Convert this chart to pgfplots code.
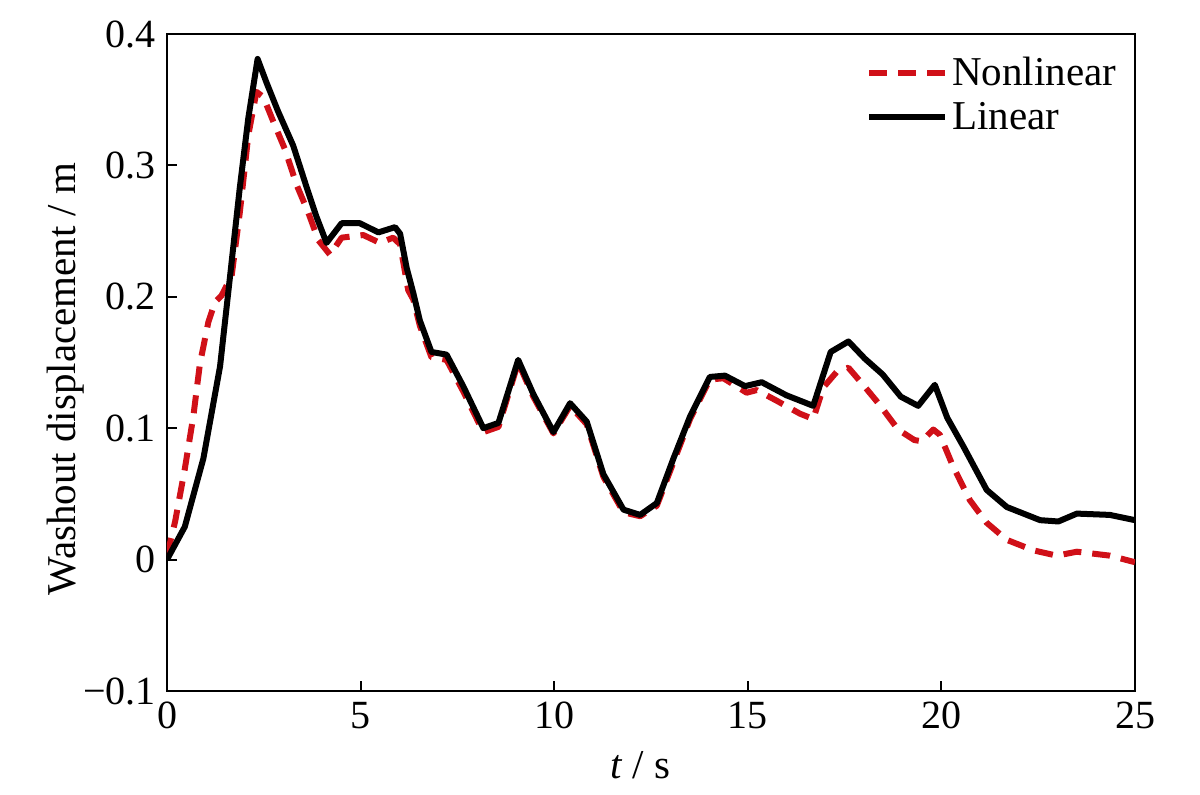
\documentclass[border=0pt]{standalone}
\usepackage{fontspec}
\setmainfont{Liberation Serif}
\usepackage{pgfplots}
\pgfplotsset{compat=1.18}
\definecolor{nlred}{RGB}{208,16,24}

\begin{document}
\begin{tikzpicture}
  \begin{axis}[
    name=main,
    scale only axis,
    width=484pt, height=328.5pt,
    xmin=0, xmax=25, ymin=-0.1, ymax=0.4,
    xtick={0,5,...,25},
    ytick={-0.1,0,0.1,0.2,0.3,0.4},
    yticklabels={−0.1,0,0.1,0.2,0.3,0.4},
    /pgf/number format/assume math mode=true,
    tick align=inside,
    xtick pos=bottom, ytick pos=left,
    major tick length=5pt,
    tick style={line width=1pt, black},
    axis line style={line width=1.2pt},
    every tick label/.append style={font=\fontsize{20}{24}\selectfont},
    xticklabel style={yshift=-2pt},
    yticklabel style={xshift=-2pt},
    xlabel={\textit{t} / s},
    ylabel={Washout displacement / m},
    label style={font=\fontsize{20.5}{24}\selectfont},
    xlabel style={at={(axis description cs:0.489,-0.113)}, anchor=center},
    ylabel style={at={(axis description cs:-0.105,0.475)}, anchor=center, rotate=0},
    legend style={at={(axis description cs:0.985,0.972)}, anchor=north east,
      draw=none, fill=none, font=\fontsize{20.5}{24}\selectfont,
      row sep=3pt, inner sep=0pt},
    legend cell align=left,
    legend image code/.code={\draw[#1] (0pt,0pt) -- (38pt,0pt);},
  ]
    % nonlinear washout
    \addplot[nlred, line width=3pt, dash pattern=on 9pt off 5.5pt, line join=round] coordinates {
      (0,0.003) (0.21,0.029) (0.46,0.069) (0.68,0.109) (0.85,0.149) (1.07,0.181)
      (1.24,0.196) (1.41,0.201) (1.67,0.216) (1.88,0.264) (2.10,0.323) (2.31,0.356)
      (2.49,0.352) (2.75,0.333) (3.05,0.312) (3.35,0.285) (3.65,0.264) (3.91,0.243)
      (4.21,0.232) (4.51,0.245) (5.07,0.247) (5.50,0.241) (5.84,0.245) (6.02,0.240)
      (6.23,0.205) (6.36,0.198) (6.53,0.178) (6.83,0.154) (7.22,0.152) (7.65,0.128)
      (8.17,0.097) (8.56,0.101) (9.07,0.150) (9.46,0.124) (9.98,0.096) (10.41,0.117)
      (10.84,0.103) (11.27,0.063) (11.79,0.036) (12.22,0.033) (12.65,0.041) (13.08,0.074)
      (13.51,0.107) (14.02,0.137) (14.37,0.138) (14.97,0.127) (15.23,0.129) (15.74,0.121)
      (16.35,0.111) (16.69,0.107) (16.95,0.131) (17.3,0.143) (17.6,0.146) (17.95,0.134)
      (18.4,0.118) (18.88,0.099) (19.3,0.091) (19.49,0.090) (19.79,0.099) (19.96,0.095)
      (20.3,0.071) (20.74,0.045) (21.17,0.028) (21.69,0.015) (22.38,0.007) (22.98,0.003)
      (23.5,0.006) (24.35,0.003) (25,-0.002)
    };
    \addlegendentry{Nonlinear}
    % linear washout
    \addplot[black, line width=3pt, line join=round] coordinates {
      (0,0) (0.46,0.025) (0.94,0.077) (1.37,0.147) (1.63,0.216) (1.88,0.283)
      (2.10,0.336) (2.34,0.381) (2.57,0.363) (2.87,0.341) (3.26,0.315) (3.61,0.283)
      (3.86,0.261) (4.12,0.241) (4.51,0.256) (4.98,0.256) (5.46,0.249) (5.89,0.253)
      (6.02,0.248) (6.19,0.222) (6.36,0.203) (6.53,0.182) (6.83,0.158) (7.22,0.156)
      (7.65,0.132) (8.17,0.100) (8.56,0.104) (9.07,0.152) (9.46,0.126) (9.98,0.097)
      (10.41,0.119) (10.84,0.105) (11.27,0.065) (11.79,0.038) (12.22,0.034) (12.65,0.043)
      (13.08,0.077) (13.51,0.109) (14.02,0.139) (14.41,0.140) (14.93,0.132) (15.36,0.135)
      (16.0,0.125) (16.69,0.117) (17.14,0.158) (17.6,0.166) (18.02,0.153) (18.48,0.141)
      (18.95,0.124) (19.4,0.117) (19.83,0.133) (20.15,0.108) (20.57,0.086) (21.17,0.053)
      (21.69,0.040) (22.55,0.030) (23.02,0.029) (23.5,0.035) (24.35,0.034) (25,0.030)
    };
    \addlegendentry{Linear}
  \end{axis}
  % fix the page to the reference's margins
  \path[use as bounding box] ([xshift=-83.5pt,yshift=-52pt]main.south west)
    rectangle ([xshift=32.5pt,yshift=17pt]main.north east);
\end{tikzpicture}
\end{document}
